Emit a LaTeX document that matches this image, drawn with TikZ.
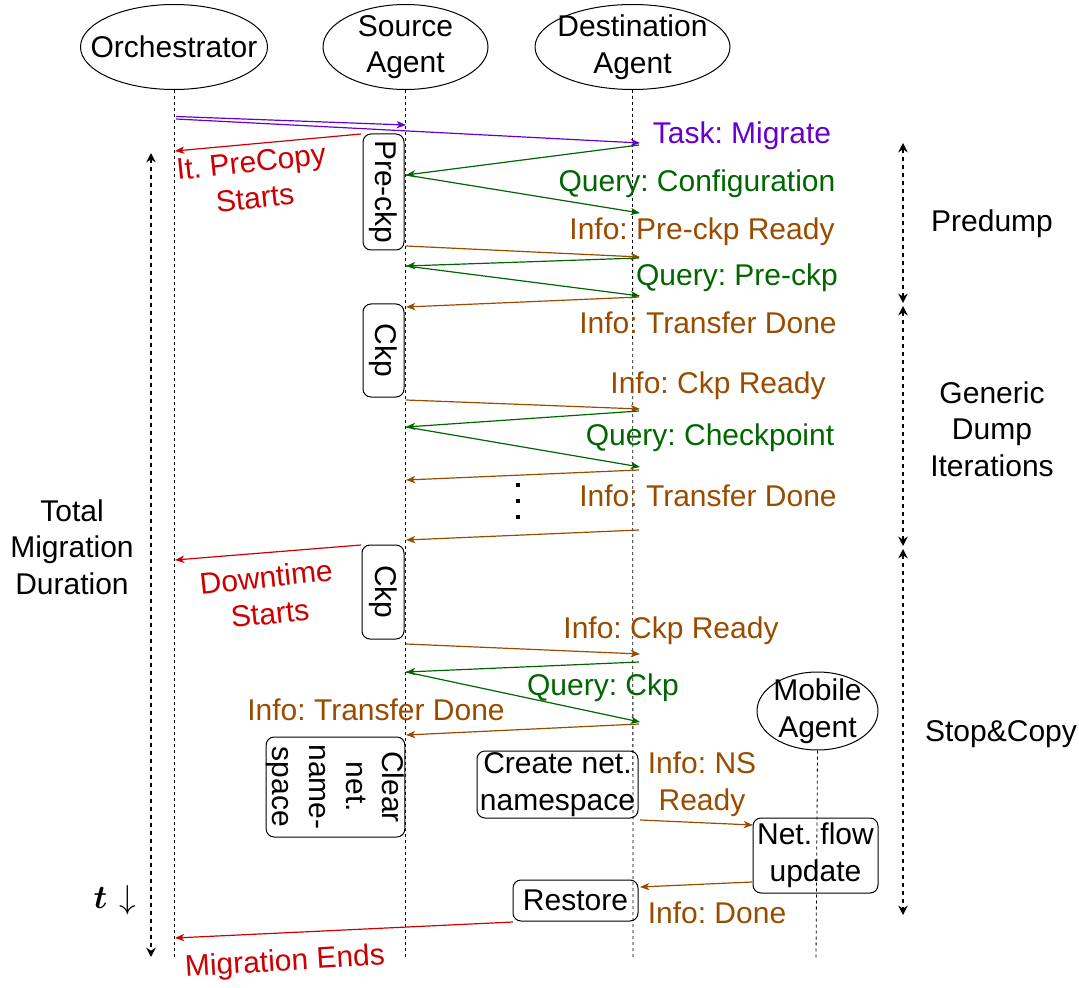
\documentclass[tikz,border=0pt]{standalone}
\usepackage{fontspec}
\setmainfont{Liberation Sans}
\usetikzlibrary{arrows.meta,shapes.geometric}
\definecolor{cpurple}{RGB}{102,0,204}
\definecolor{cgreen}{RGB}{0,102,0}
\definecolor{cbrown}{RGB}{153,76,0}
\definecolor{cred}{RGB}{204,0,0}
\frenchspacing
\begin{document}
\begin{tikzpicture}[x=0.75pt,y=-0.75pt,
  every node/.style={font=\fontsize{22.5}{27.5}\selectfont, inner sep=0pt},
  actor/.style={draw, ellipse, line width=0.75pt},
  lifeline/.style={dash pattern=on 2.25pt off 2.25pt, line width=0.6pt},
  msg/.style={line width=0.9pt, -{Stealth[length=7pt,width=5.5pt,inset=2pt]}},
  pmsg/.style={msg, cpurple},
  gmsg/.style={msg, cgreen},
  bmsg/.style={msg, cbrown},
  rmsg/.style={msg, cred},
  act/.style={draw, rounded corners=6pt, line width=0.75pt, align=center},
  spanarrow/.style={line width=1.6pt, dash pattern=on 3.5pt off 2.5pt,
    {Stealth[length=7pt,width=7pt]}-{Stealth[length=7pt,width=7pt]}},
  dotmark/.style={fill=black, minimum size=3.5pt}
]
\useasboundingbox (0,0) rectangle (1079,988);

% actors
\node[actor, minimum width=140.25pt, minimum height=63.75pt] (orch) at (174,47) {};
\node[align=center] (orcht) at (orch.center) {Orchestrator};
\node[actor, minimum width=123.75pt, minimum height=63.75pt] (src) at (405.5,47) {};
\node[align=center] (srct) at (src.center) {Source\\Agent};
\node[actor, minimum width=146.25pt, minimum height=63.75pt] (dst) at (632.5,47) {};
\node[align=center] (dstt) at (dst.center) {Destination\\Agent};
\node[actor, minimum width=90.75pt, minimum height=58.5pt] (mob) at (817.5,711) {};
\node[align=center] (mobt) at (mob.center) {Mobile\\Agent};

% lifelines
\coordinate (orchE) at (174,958);
\coordinate (srcE) at (405.5,958);
\coordinate (dstE) at (633,958);
\coordinate (mobE) at (816,958);
\draw[lifeline] (orch.south) -- (orchE);
\draw[lifeline] (src.south) -- (srcE);
\draw[lifeline] (dst.south) -- (dstE);
\draw[lifeline] (mob.south) -- (mobE);

% activity boxes
\node[act, rotate=-90, minimum width=87pt, minimum height=30.75pt] (preckp) at (383.5,192) {Pre-ckp};
\node[act, rotate=-90, minimum width=69.75pt, minimum height=30.75pt] (ckpa) at (383.5,350.5) {Ckp};
\node[act, rotate=-90, minimum width=70.5pt, minimum height=31.5pt] (ckpb) at (383,592) {Ckp};
\node[act, rotate=-90, minimum width=75pt, minimum height=104pt] (clear) at (335.5,787) {Clear\\net.\\name-\\space};
\node[act, minimum width=120.75pt, minimum height=50.25pt] (create) at (557.5,784.5) {Create net.\\namespace};
\node[act, minimum width=93.75pt, minimum height=56.25pt] (flow) at (815.5,855.5) {Net. flow\\update};
\node[act, minimum width=93.75pt, minimum height=30.75pt] (restore) at (575.5,900.5) {Restore};

% message end points
\coordinate (a1) at (176,116.5); \coordinate (a2) at (406,125);
\coordinate (b1) at (176,119);   \coordinate (b2) at (640,143);
\coordinate (c1) at (361,134);   \coordinate (c2) at (175,151);
\coordinate (d1) at (639,145);   \coordinate (d2) at (406,175);
\coordinate (d3) at (640,213);
\coordinate (e1) at (406,246);   \coordinate (e2) at (640,257);
\coordinate (f1) at (639,258);   \coordinate (f2) at (406,266);
\coordinate (f3) at (640,296);
\coordinate (g1) at (639,297);   \coordinate (g2) at (406,307);
\coordinate (h1) at (406,400);   \coordinate (h2) at (640,409);
\coordinate (i1) at (639,411);   \coordinate (i2) at (406,427);
\coordinate (i3) at (640,467);
\coordinate (j1) at (639,470);   \coordinate (j2) at (406,480);
\coordinate (k1) at (639,530);   \coordinate (k2) at (406,540);
\coordinate (l1) at (361,545);   \coordinate (l2) at (175,560);
\coordinate (m1) at (406,644);   \coordinate (m2) at (640,654);
\coordinate (n1) at (639,662);   \coordinate (n2) at (406,672);
\coordinate (n3) at (640,722);
\coordinate (o1) at (639,724);   \coordinate (o2) at (406,735);
\coordinate (p1) at (640,820);   \coordinate (p2) at (753,825);
\coordinate (q1) at (752,882);   \coordinate (q2) at (640,887);
\coordinate (r1) at (513,922);   \coordinate (r2) at (175,938);

% messages
\draw[pmsg] (a1) -- (a2);
\draw[pmsg] (b1) -- (b2);
\draw[rmsg] (c1) -- (c2);
\draw[gmsg] (d1) -- (d2);
\draw[gmsg] (d2) -- (d3);
\draw[bmsg] (e1) -- (e2);
\draw[gmsg] (f1) -- (f2);
\draw[gmsg] (f2) -- (f3);
\draw[bmsg] (g1) -- (g2);
\draw[bmsg] (h1) -- (h2);
\draw[gmsg] (i1) -- (i2);
\draw[gmsg] (i2) -- (i3);
\draw[bmsg] (j1) -- (j2);
\draw[bmsg] (k1) -- (k2);
\draw[rmsg] (l1) -- (l2);
\draw[bmsg] (m1) -- (m2);
\draw[gmsg] (n1) -- (n2);
\draw[gmsg] (n2) -- (n3);
\draw[bmsg] (o1) -- (o2);
\draw[bmsg] (p1) -- (p2);
\draw[bmsg] (q1) -- (q2);
\draw[rmsg] (r1) -- (r2);

% message labels
\node[text=cpurple] (lt1) at (742,136) {Task: Migrate};
\node[text=cred, align=center, rotate=6] (lt2) at (253,180) {It. PreCopy\\Starts};
\node[text=cgreen] (lt3) at (697,184) {Query: Configuration};
\node[text=cbrown] (lt4) at (702,232) {Info: Pre-ckp Ready};
\node[text=cgreen] (lt5) at (737,278) {Query: Pre-ckp};
\node[text=cbrown] (lt6) at (708,323) {Info: Transfer Done};
\node[text=cbrown] (lt7) at (718,386) {Info: Ckp Ready};
\node[text=cgreen] (lt8) at (710,438) {Query: Checkpoint};
\node[text=cbrown] (lt9) at (708,496) {Info: Transfer Done};
\node[text=cred, align=center, rotate=6] (lt10) at (268,595) {Downtime\\Starts};
\node[text=cbrown] (lt11) at (671,631) {Info: Ckp Ready};
\node[text=cgreen] (lt12) at (603,688) {Query: Ckp};
\node[text=cbrown] (lt13) at (376,710) {Info: Transfer Done};
\node[text=cbrown, align=center] (lt14) at (702,784) {Info: NS\\Ready};
\node[text=cbrown] (lt15) at (717,913) {Info: Done};
\node[text=cred, rotate=3.5] (lt16) at (285,963) {Migration Ends};

% dots
\node[dotmark] (dt1) at (518,485) {};
\node[dotmark] (dt2) at (518,501) {};
\node[dotmark] (dt3) at (518,517) {};

% left span
\coordinate (tl1) at (151,153); \coordinate (tl2) at (151,957);
\draw[spanarrow] (tl1) -- (tl2);
\node[align=center] (total) at (72,547) {Total\\Migration\\Duration};
\node[font=\fontsize{28}{32}\selectfont] (tarrow) at (115,900) {{\boldmath$t$}\,\,$\downarrow$};

% right spans
\coordinate (s1) at (903,143); \coordinate (s2) at (903,303);
\coordinate (s3) at (903,306); \coordinate (s4) at (903,546);
\coordinate (s5) at (903,549); \coordinate (s6) at (903,915);
\draw[spanarrow] (s1) -- (s2);
\draw[spanarrow] (s3) -- (s4);
\draw[spanarrow] (s5) -- (s6);
\node (predump) at (992,224) {Predump};
\node[align=center] (generic) at (992,429) {Generic\\Dump\\Iterations};
\node (stopcopy) at (1001,734) {Stop\&Copy};
\end{tikzpicture}
\end{document}
